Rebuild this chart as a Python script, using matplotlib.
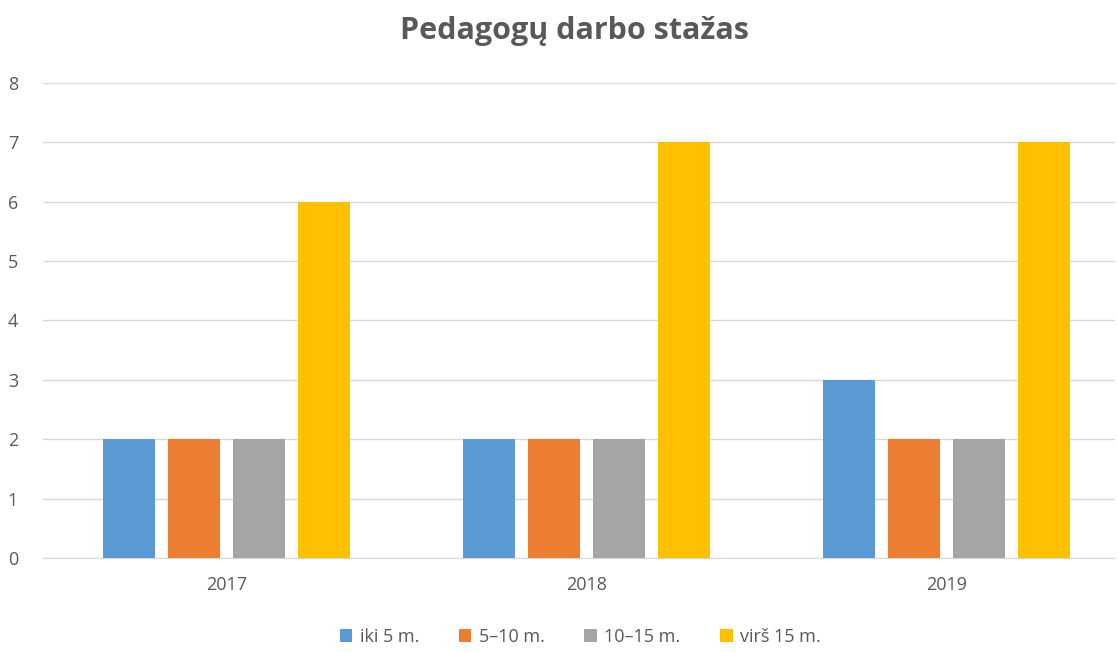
import numpy as np
import matplotlib.pyplot as plt

years = ["2017", "2018", "2019"]
series = ["iki 5 m.", "5–10 m.", "10–15 m.", "virš 15 m."]
iki5 = [2, 2, 3]
m5_10 = [2, 2, 2]
m10_15 = [2, 2, 2]
virs15 = [6, 7, 7]
values = [iki5, m5_10, m10_15, virs15]
colors = ["#5B9BD5", "#ED7D31", "#A5A5A5", "#FFC000"]

plt.rcParams['font.family'] = ['Open Sans', 'DejaVu Sans']

fig = plt.figure(figsize=(11.18, 6.52), dpi=100)
ax = fig.add_axes([0.0385, 0.1442, 0.9585, 0.7285])

x = np.arange(len(years))
width = 0.144
pitch = 0.1806
for i, (name, vals) in enumerate(zip(series, values)):
    ax.bar(x + (i - 1.5) * pitch, vals, width, color=colors[i], label=name, zorder=3)

ax.set_xlim(-0.51, 2.467)
ax.set_ylim(0, 8)
ax.set_yticks(range(0, 9))
ax.set_xticks(x)
ax.set_xticklabels(years)
ax.grid(axis="y", color="#D9D9D9", linewidth=1, zorder=0)
for s in ["top", "right", "left"]:
    ax.spines[s].set_visible(False)
ax.spines["bottom"].set_color("#D9D9D9")
ax.tick_params(axis="both", length=0, labelsize=13, labelcolor="#595959")
ax.tick_params(axis="x", pad=13)
ax.tick_params(axis="y", pad=18)

fig.text(0.514, 0.953, "Pedagogų darbo stažas", ha="center", va="center",
         fontsize=22, fontweight="bold", color="#595959")

fig.legend(loc="center", bbox_to_anchor=(0.519, 0.023), ncol=4, frameon=False,
           fontsize=13, labelcolor="#595959", handlelength=0.7, handleheight=0.7,
           handletextpad=0.4, columnspacing=2.2)

fig.savefig("out.png", dpi=100)
